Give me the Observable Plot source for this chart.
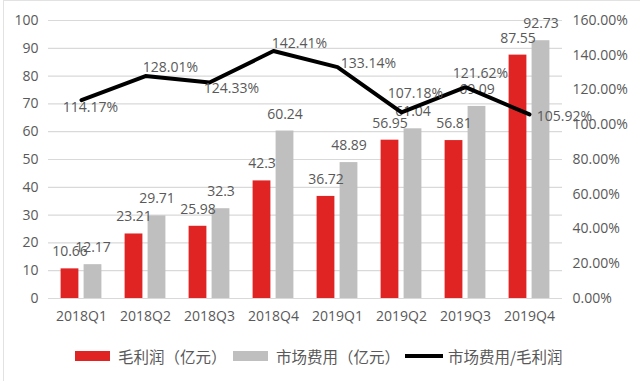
<!DOCTYPE html>
<html>
<head>
<meta charset="utf-8">
<script src="https://cdn.jsdelivr.net/npm/d3@7"></script>
<script src="https://cdn.jsdelivr.net/npm/@observablehq/plot@0.6"></script>
<style>
  html, body { margin: 0; padding: 0; background: #fff; }
  #wrap { position: relative; width: 640px; height: 381px; overflow: hidden;
          font-family: "Open Sans", "Noto Sans CJK SC", sans-serif; }
  #frame { position: absolute; left: 3px; top: 0; width: 660px; height: 400px;
           border-left: 1px solid #e2e2e2; border-top: 1px solid #e2e2e2; pointer-events: none; }
  #legend { position: absolute; top: 346px; left: 0; width: 640px; height: 20px;
            font-size: 15.5px; color: #595959;
            font-family: "Noto Sans CJK SC", sans-serif; }
  .sw { display: inline-block; width: 35px; height: 10px; margin-right: 8px; }
  .ln { display: inline-block; width: 38px; height: 4px; background: #000; margin-right: 5px; }
  .item { display: flex; align-items: center; position: absolute; top: 0; height: 20px; white-space: nowrap; }
</style>
</head>
<body>
<div id="wrap">
  <div id="chart"></div>
  <div id="legend"></div>
  <div id="frame"></div>
</div>
<script>
const categories = ["2018Q1","2018Q2","2018Q3","2018Q4","2019Q1","2019Q2","2019Q3","2019Q4"];
const grossProfit = [10.66, 23.21, 25.98, 42.3, 36.72, 56.95, 56.81, 87.55];
const marketingCost = [12.17, 29.71, 32.3, 60.24, 48.89, 61.04, 69.09, 92.73];
const costRatio = [114.17, 128.01, 124.33, 142.41, 133.14, 107.18, 121.62, 105.92];
const leftTicks = [0,10,20,30,40,50,60,70,80,90,100];
const rightTicks = [0,20,40,60,80,100,120,140,160];
const seriesNames = ["毛利润（亿元）", "市场费用（亿元）", "市场费用/毛利润"];

// styling (label placement for line labels, in px)
const lineLabelOffset = {
  "2018Q1": [9, 7], "2018Q2": [25, -9], "2018Q3": [22, 6], "2018Q4": [26, -8],
  "2019Q1": [31, -4], "2019Q2": [14, -19], "2019Q3": [15, -14], "2019Q4": [35, 2]
};
const RED = "#e02424", GRAY = "#bfbfbf", TXT = "#595959";
const ratioScale = 100 / 160;

const rows = categories.map((c, i) => ({
  cat: c, gp: grossProfit[i], mc: marketingCost[i], r: costRatio[i], ry: costRatio[i] * ratioScale
}));

const font = "Open Sans, sans-serif";
const chart = Plot.plot({
  width: 640, height: 335,
  marginTop: 20, marginBottom: 37, marginLeft: 48, marginRight: 78,
  style: { fontFamily: font, fontSize: "14px", color: TXT, background: "transparent", overflow: "visible" },
  x: { domain: categories, padding: 0 },
  y: { domain: [0, 100] },
  marks: [
    Plot.gridY(leftTicks, { stroke: "#d9d9d9", strokeOpacity: 1, strokeWidth: 1.2 }),
    Plot.axisY(leftTicks, { anchor: "left", tickSize: 0, tickPadding: 10, label: null, fill: TXT, fontSize: 14 }),
    Plot.axisY(rightTicks.map(t => t * ratioScale), { anchor: "right", tickSize: 0, tickPadding: 10, label: null,
      fill: TXT, fontSize: 14, tickFormat: d => (d / ratioScale).toFixed(2) + "%" }),
    Plot.axisX({ tickSize: 0, tickPadding: 13, label: null, fill: TXT, fontSize: 14 }),
    Plot.barY(rows, { x: "cat", y: "gp", fill: RED, insetLeft: 11.6, insetRight: 34.6 }),
    Plot.barY(rows, { x: "cat", y: "mc", fill: GRAY, insetLeft: 34.6, insetRight: 11.6 }),
    Plot.text(rows, { x: "cat", y: "gp", text: d => String(d.gp), dx: -11.5, dy: -17, fill: TXT, fontSize: 14 }),
    Plot.text(rows, { x: "cat", y: "mc", text: d => String(d.mc), dx: 11.5, dy: -17, fill: TXT, fontSize: 14 }),
    Plot.line(rows, { x: "cat", y: "ry", stroke: "#000", strokeWidth: 4, strokeLinejoin: "round" }),
    ...rows.map(d => Plot.text([d], { x: "cat", y: "ry", text: v => v.r.toFixed(2) + "%",
      dx: lineLabelOffset[d.cat][0], dy: lineLabelOffset[d.cat][1], fill: TXT, fontSize: 14 }))
  ]
});
document.getElementById("chart").appendChild(chart);

const legend = document.getElementById("legend");
legend.innerHTML = `
  <div class="item" style="left:75px"><span class="sw" style="background:${RED}"></span>${seriesNames[0]}</div>
  <div class="item" style="left:233px"><span class="sw" style="background:${GRAY}"></span>${seriesNames[1]}</div>
  <div class="item" style="left:405px"><span class="ln"></span>${seriesNames[2]}</div>`;
</script>
</body>
</html>
